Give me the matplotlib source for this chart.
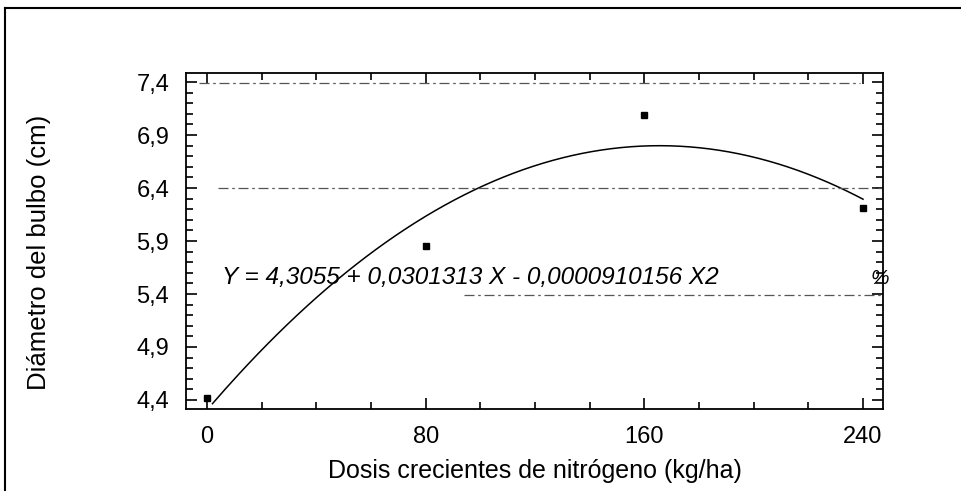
import numpy as np
import matplotlib.pyplot as plt
from matplotlib.ticker import MultipleLocator, FuncFormatter
from matplotlib.lines import Line2D

# Datos observados
dosis = [0, 80, 160, 240]                  # kg/ha
diametro = [4.42, 5.85, 7.09, 6.21]        # cm

# Coeficientes de la regresión cuadrática (según la ecuación del gráfico)
b0 = 4.3055
b1 = 0.0301313
b2 = -0.0000910156

# Líneas de referencia horizontales (y, x inicial, x final)
ref_y = [7.39, 6.4, 5.39]
ref_x0 = [-3, 4, 94]
ref_x1 = [239, 247.3, 247.3]

plt.rcParams['font.family'] = ['Liberation Sans', 'DejaVu Sans']

fig = plt.figure(figsize=(9.61, 4.91), dpi=100)
ax = fig.add_axes([0.1935, 0.167, 0.7253, 0.6843])

# Curva ajustada
xc = np.linspace(2, 240, 200)
yc = b0 + b1 * xc + b2 * xc**2
ax.plot(xc, yc, color='black', linewidth=1.1)

# Puntos
ax.plot(dosis, diametro, 's', color='black', markersize=4)

# Líneas de referencia
for y, a, b in zip(ref_y, ref_x0, ref_x1):
    ax.plot([a, b], [y, y], color='#555555', linewidth=0.9, linestyle=(0, (8, 3, 2, 3)))

ax.text(5.5, 5.56, 'Y = 4,3055 + 0,0301313 X - 0,0000910156 X2', fontsize=17.6,
        style='italic', va='center', ha='left')
ax.text(246, 5.55, '%', fontsize=15, style='italic', va='center', ha='center')

ax.set_xlim(-7.7, 247.3)
ax.set_ylim(4.315, 7.485)
ax.xaxis.set_major_locator(MultipleLocator(80))
ax.xaxis.set_minor_locator(MultipleLocator(20))
ax.yaxis.set_minor_locator(MultipleLocator(0.1))
ax.yaxis.set_major_formatter(FuncFormatter(lambda v, p: f'{v:.1f}'.replace('.', ',')))
ax.set_yticks([4.4, 4.9, 5.4, 5.9, 6.4, 6.9, 7.4])

ax.tick_params(which='both', direction='in', top=True, right=True, width=1.2, labelsize=17)
ax.tick_params(axis='x', which='major', length=8, pad=12)
ax.tick_params(axis='y', which='major', length=8, pad=12)
ax.tick_params(which='minor', length=5)
for s in ax.spines.values():
    s.set_linewidth(1.3)

ax.set_xlabel('Dosis crecientes de nitrógeno (kg/ha)', fontsize=18, labelpad=8)
ax.set_ylabel('Diámetro del bulbo (cm)', fontsize=18.5)
ax.yaxis.set_label_coords(-0.193, 0.465)

# Marco exterior
fig.add_artist(Line2D([0.005, 1.0], [0.984, 0.984], color='black', linewidth=1.5, transform=fig.transFigure))
fig.add_artist(Line2D([0.005, 0.005], [0.0, 0.984], color='black', linewidth=1.5, transform=fig.transFigure))

fig.savefig('out.png', dpi=100)
